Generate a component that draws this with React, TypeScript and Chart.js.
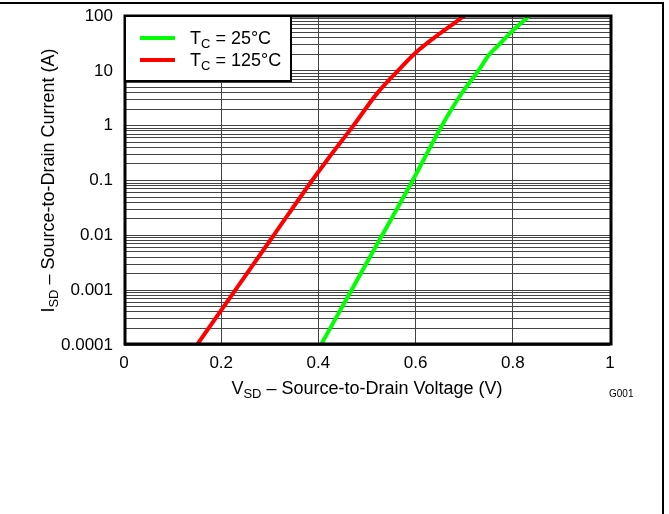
import React, { useEffect, useRef } from 'react';
import { Chart, registerables } from 'chart.js';

Chart.register(...registerables);

// Data
const voltage25 = [0.405, 0.468, 0.531, 0.594, 0.654, 0.695, 0.729, 0.752, 0.77, 0.798, 0.834];
const current25 = [0.0001, 0.001, 0.01, 0.1, 1.0, 3.9, 10, 20, 29, 52, 100];
const voltage125 = [0.15, 0.229, 0.308, 0.387, 0.42, 0.472, 0.52, 0.561, 0.599, 0.65, 0.7];
const current125 = [0.0001, 0.001, 0.01, 0.1, 0.25, 1.0, 3.8, 9.5, 21, 48, 100];

const xTicks = [0, 0.2, 0.4, 0.6, 0.8, 1];
const xTickLabels = ['0', '0.2', '0.4', '0.6', '0.8', '1'];
const yDecades = [0.0001, 0.001, 0.01, 0.1, 1, 10, 100];
const yTickLabels = ['0.0001', '0.001', '0.01', '0.1', '1', '10', '100'];
const minorMultipliers = [2, 3, 4, 5, 6, 7, 8, 9];

const seriesNames = ['25°C', '125°C'];
const seriesColors = ['#00ff00', '#ff0000'];

const FONT = '"Liberation Sans", Arial, sans-serif';

type Part = { t: string; sub?: boolean };

function drawRich(
  ctx: CanvasRenderingContext2D,
  parts: Part[],
  x: number,
  y: number,
  size: number,
  subSize: number,
  subOffset: number,
  align: 'left' | 'center'
) {
  const mainFont = `${size}px ${FONT}`;
  const subFont = `${subSize}px ${FONT}`;
  let total = 0;
  const widths = parts.map((p) => {
    ctx.font = p.sub ? subFont : mainFont;
    const w = ctx.measureText(p.t).width;
    total += w;
    return w;
  });
  let cx = align === 'center' ? x - total / 2 : x;
  ctx.textAlign = 'left';
  ctx.textBaseline = 'alphabetic';
  ctx.fillStyle = '#000';
  parts.forEach((p, i) => {
    ctx.font = p.sub ? subFont : mainFont;
    ctx.fillText(p.t, cx, p.sub ? y + subOffset : y);
    cx += widths[i];
  });
}

const decorPlugin = {
  id: 'decor',
  afterDraw(chart: any) {
    const ctx: CanvasRenderingContext2D = chart.ctx;
    const { left, top, right, bottom } = chart.chartArea;
    ctx.save();

    // plot frame
    ctx.strokeStyle = '#000';
    ctx.lineWidth = 3;
    ctx.strokeRect(left + 1, top, right - left, bottom - top - 1);

    // legend box
    const lx = left + 1;
    const ly = top;
    const lw = 166;
    const lh = 65;
    ctx.fillStyle = '#fff';
    ctx.fillRect(lx, ly, lw, lh);
    ctx.lineWidth = 2;
    ctx.strokeRect(lx, ly, lw, lh);

    const rows = [ly + 22, ly + 44];
    seriesNames.forEach((name, i) => {
      ctx.strokeStyle = seriesColors[i];
      ctx.lineWidth = 4;
      ctx.beginPath();
      ctx.moveTo(lx + 15, rows[i]);
      ctx.lineTo(lx + 50, rows[i]);
      ctx.stroke();
      drawRich(ctx, [{ t: 'T' }, { t: 'C', sub: true }, { t: ' = ' + name }], lx + 65, rows[i] + 6, 18, 13, 3.5, 'left');
    });

    // x axis title
    drawRich(
      ctx,
      [{ t: 'V' }, { t: 'SD', sub: true }, { t: ' \u2013 Source-to-Drain Voltage (V)' }],
      (left + right) / 2,
      394,
      18,
      13,
      3.5,
      'center'
    );

    // y axis title
    ctx.save();
    ctx.translate(54, (top + bottom) / 2);
    ctx.rotate(-Math.PI / 2);
    drawRich(
      ctx,
      [{ t: 'I' }, { t: 'SD', sub: true }, { t: ' \u2013 Source-to-Drain Current (A)' }],
      0,
      0,
      18,
      13,
      3.5,
      'center'
    );
    ctx.restore();

    // graph id
    ctx.font = `10px ${FONT}`;
    ctx.fillStyle = '#000';
    ctx.textAlign = 'left';
    ctx.fillText('G001', 609, 397);

    // outer frame
    ctx.fillStyle = '#000';
    ctx.fillRect(0, 2, 664, 2);
    ctx.fillRect(662, 2, 2, 512);

    ctx.restore();
  },
};

export default function App() {
  const ref = useRef<HTMLCanvasElement | null>(null);

  useEffect(() => {
    if (!ref.current) return;
    const chart = new Chart(ref.current, {
      type: 'line',
      data: {
        datasets: [
          {
            label: 'TC = 25°C',
            data: voltage25.map((v, i) => ({ x: v, y: current25[i] })),
            borderColor: seriesColors[0],
            borderWidth: 4,
            pointRadius: 0,
            cubicInterpolationMode: 'monotone',
            fill: false,
          },
          {
            label: 'TC = 125°C',
            data: voltage125.map((v, i) => ({ x: v, y: current125[i] })),
            borderColor: seriesColors[1],
            borderWidth: 4,
            pointRadius: 0,
            cubicInterpolationMode: 'monotone',
            fill: false,
          },
        ],
      },
      options: {
        animation: false,
        responsive: false,
        maintainAspectRatio: false,
        layout: { padding: { top: 16, right: 59, left: 0, bottom: 0 } },
        plugins: {
          legend: { display: false },
          tooltip: { enabled: false },
          title: { display: false },
        },
        scales: {
          x: {
            type: 'linear',
            min: 0,
            max: 1,
            afterBuildTicks: (scale: any) => {
              scale.ticks = xTicks.map((v) => ({ value: v }));
            },
            afterFit: (scale: any) => {
              scale.height = 169;
              scale.paddingLeft = 0;
              scale.paddingRight = 0;
            },
            ticks: {
              autoSkip: false,
              maxRotation: 0,
              padding: 8,
              color: '#000',
              font: { family: FONT, size: 17 },
              callback: (value: any) => {
                const i = xTicks.indexOf(Number(value));
                return i >= 0 ? xTickLabels[i] : '';
              },
            },
            grid: { color: '#444', lineWidth: 1, drawTicks: false },
            border: { display: false },
          },
          y: {
            type: 'logarithmic',
            min: yDecades[0],
            max: yDecades[yDecades.length - 1],
            afterBuildTicks: (scale: any) => {
              const ticks: { value: number }[] = [];
              yDecades.forEach((d, i) => {
                ticks.push({ value: d });
                if (i < yDecades.length - 1) {
                  minorMultipliers.forEach((m) => ticks.push({ value: d * m }));
                }
              });
              scale.ticks = ticks;
            },
            afterFit: (scale: any) => {
              scale.width = 124;
              scale.paddingTop = 0;
              scale.paddingBottom = 0;
            },
            ticks: {
              autoSkip: false,
              padding: 11,
              color: '#000',
              font: { family: FONT, size: 17 },
              callback: (value: any) => {
                const v = Number(value);
                const i = yDecades.findIndex((d) => Math.abs(d - v) / d < 1e-6);
                return i >= 0 ? yTickLabels[i] : '';
              },
            },
            grid: { color: '#444', lineWidth: 1, drawTicks: false },
            border: { display: false },
          },
        },
      },
      plugins: [decorPlugin],
    } as any);
    return () => chart.destroy();
  }, []);

  return (
    <div style={{ position: 'fixed', left: 0, top: 0, width: 669, height: 514, background: '#fff' }}>
      <canvas ref={ref} width={669} height={514} style={{ display: 'block', width: 669, height: 514 }} />
    </div>
  );
}
